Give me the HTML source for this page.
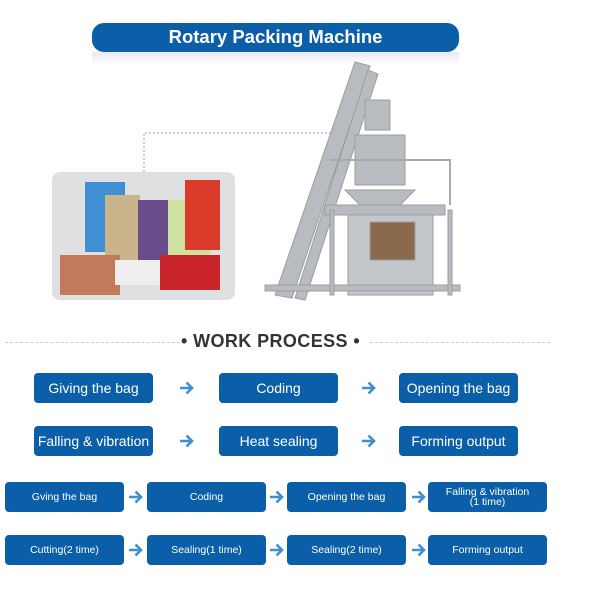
<!DOCTYPE html>
<html><head><meta charset="utf-8"><style>
body{margin:0;width:600px;height:600px;background:#fff;position:relative;overflow:hidden;font-family:"Liberation Sans",Arial,sans-serif}
.b{position:absolute;background:#0b5ea8;color:#fff;border-radius:4px;display:flex;align-items:center;justify-content:center;text-align:center;line-height:1}
.r1{width:119px;height:30px;font-size:14px}
.r3{width:119px;height:30px;font-size:10.5px}
.a{position:absolute;width:15px;height:14px}
</style></head><body>
<svg width="0" height="0" style="position:absolute"><defs><symbol id="ar" viewBox="0 0 15 14"><path d="M1 7H13M7.5 1.5L13 7L7.5 12.5" fill="none" stroke="#3f8fd2" stroke-width="2.6"/></symbol></defs></svg>
<div style="position:absolute;left:92px;top:52px;width:367px;height:14px;background:linear-gradient(#e6eaee,#fff)"></div>
<div class="b" style="left:92px;top:23px;width:367px;height:29px;border-radius:12px;font-size:18.5px;font-weight:bold">Rotary Packing Machine</div>
<svg style="position:absolute;left:0;top:0" width="600" height="320">
<polyline points="144,172 144,133 335,133" fill="none" stroke="#999" stroke-dasharray="2,2"/>
<rect x="52" y="172" width="183" height="128" rx="8" fill="#dfe0e2"/>
<rect x="85" y="182" width="40" height="70" fill="#3f8fd2"/>
<rect x="105" y="195" width="35" height="80" fill="#c9b48c"/>
<rect x="138" y="200" width="32" height="75" fill="#6a4c8c"/>
<rect x="168" y="200" width="42" height="80" fill="#cfe1a0"/>
<rect x="185" y="180" width="35" height="70" fill="#d93a2a"/>
<rect x="60" y="255" width="60" height="40" fill="#c27a5a"/>
<rect x="160" y="255" width="60" height="35" fill="#c8242a"/>
<rect x="115" y="260" width="45" height="25" fill="#eee"/>
<g fill="#b8bcc0" stroke="#9a9ea3">
<polygon points="275,295 355,62 370,66 292,298"/>
<polygon points="295,298 368,70 378,74 305,300"/>
<rect x="355" y="135" width="50" height="50"/>
<polygon points="345,190 415,190 400,205 360,205"/>
<rect x="365" y="100" width="25" height="30"/>
<rect x="325" y="205" width="120" height="10"/>
<rect x="348" y="215" width="85" height="80" fill="#c4c7ca"/>
<rect x="370" y="222" width="45" height="38" fill="#8a6a4a"/>
<rect x="265" y="285" width="195" height="6"/>
<rect x="330" y="210" width="4" height="85"/>
<rect x="448" y="210" width="4" height="85"/>
</g>
<polyline points="330,160 450,160 450,205" fill="none" stroke="#aaa" stroke-width="2"/>
</svg>
<div style="position:absolute;left:5px;top:342px;width:175px;border-top:1px dashed #ccc"></div>
<div style="position:absolute;left:370px;top:342px;width:180px;border-top:1px dashed #ccc"></div>
<div style="position:absolute;left:181px;top:331px;font-size:18px;font-weight:bold;color:#333;letter-spacing:0.4px">• WORK PROCESS •</div>
<div class="b r1" style="left:34px;top:373px">Giving the bag</div>
<div class="b r1" style="left:219px;top:373px">Coding</div>
<div class="b r1" style="left:399px;top:373px">Opening the bag</div>
<div class="b r1" style="left:34px;top:426px">Falling &amp; vibration</div>
<div class="b r1" style="left:219px;top:426px">Heat sealing</div>
<div class="b r1" style="left:399px;top:426px">Forming output</div>
<svg class="a" style="left:179px;top:381px"><use href="#ar"/></svg>
<svg class="a" style="left:361px;top:381px"><use href="#ar"/></svg>
<svg class="a" style="left:179px;top:434px"><use href="#ar"/></svg>
<svg class="a" style="left:361px;top:434px"><use href="#ar"/></svg>
<div class="b r3" style="left:5px;top:482px">Gving the bag</div>
<div class="b r3" style="left:147px;top:482px">Coding</div>
<div class="b r3" style="left:287px;top:482px">Opening the bag</div>
<div class="b r3" style="left:428px;top:482px">Falling &amp; vibration<br>(1 time)</div>
<div class="b r3" style="left:5px;top:535px">Cutting(2 time)</div>
<div class="b r3" style="left:147px;top:535px">Sealing(1 time)</div>
<div class="b r3" style="left:287px;top:535px">Sealing(2 time)</div>
<div class="b r3" style="left:428px;top:535px">Forming output</div>
<svg class="a" style="left:128px;top:490px"><use href="#ar"/></svg>
<svg class="a" style="left:269px;top:490px"><use href="#ar"/></svg>
<svg class="a" style="left:411px;top:490px"><use href="#ar"/></svg>
<svg class="a" style="left:128px;top:543px"><use href="#ar"/></svg>
<svg class="a" style="left:269px;top:543px"><use href="#ar"/></svg>
<svg class="a" style="left:411px;top:543px"><use href="#ar"/></svg>
</body></html>
